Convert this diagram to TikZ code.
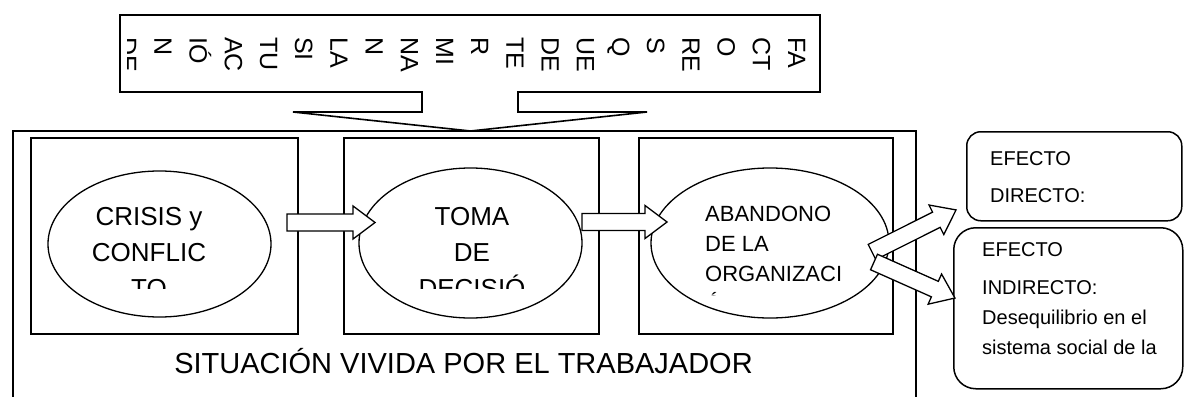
\documentclass[tikz,border=0pt]{standalone}
\usepackage{fontspec}
\setmainfont{Liberation Sans}
\usetikzlibrary{shapes.geometric}

% flecha de bloque: origen, angulo, largo
\newcommand{\flechabloque}[3]{%
  \draw[bloque, shift={#1}, rotate=#2] (0,-8.5) -- ({#3-22},-8.5) -- ({#3-22},-16.5) -- (#3,0)
    -- ({#3-22},16.5) -- ({#3-22},8.5) -- (0,8.5) -- cycle;}

\begin{document}
\begin{tikzpicture}[x=1pt, y=-1pt,
    caja/.style={draw, line width=1.6pt, inner sep=0pt, anchor=north west},
    elipse/.style={draw, ellipse, line width=1.3pt, inner sep=0pt},
    texto/.style={inner sep=0pt, align=center, font=\fontsize{26}{36}\selectfont},
    vertical/.style={inner sep=0pt, rotate=-90, anchor=base west, font=\fontsize{25}{30}\selectfont},
    efecto/.style={draw, rounded corners=#1, line width=1.5pt, inner sep=0pt, anchor=north west},
    bloque/.style={draw, fill=white, line width=1.3pt, line join=miter}]
  \useasboundingbox (0,0) rectangle (1185,396);

  % Llamada superior
  \draw[line width=1.6pt] (120,15) -- (820,15) -- (820,92) -- (518,92) -- (518,112) -- (647,112)
    -- (470.5,131) -- (293,112) -- (422,112) -- (422,92) -- (120,92) -- cycle;
  % Texto vertical de la llamada
  \begin{scope}
    \clip (127,15) rectangle (820,92);
    \foreach \trozo [count=\i from 0] in {FA,CT,O,RE,S,Q,UE,DE,TE,R,MI,NA,N,LA,SI,TU,AC,IÓ,N,DE}
      \node[vertical] (col\i) at ({788-35.2*\i},37) {\trozo};
  \end{scope}

  % Recuadro general
  \node[caja, minimum width=903pt, minimum height=270pt] (situacion) at (12,130) {};
  % Recuadros interiores
  \node[caja, minimum width=267pt, minimum height=196pt] (caja1) at (30,137) {};
  \node[caja, minimum width=255pt, minimum height=196pt] (caja2) at (343,137) {};
  \node[caja, minimum width=254pt, minimum height=196pt] (caja3) at (638,137) {};

  % Elipses
  \node[elipse, minimum width=223pt, minimum height=146pt] (elipse1) at (159.5,244) {};
  \node[elipse, minimum width=223pt, minimum height=150pt] (elipse2) at (470.5,243) {};
  \node[elipse, minimum width=238pt, minimum height=150pt] (elipse3) at (770,243) {};

  % Textos de las elipses (recortados)
  \begin{scope}
    \clip (0,0) rectangle (640,288);
    \node[texto, anchor=north] (texto1) at (149,207) {CRISIS y\\CONFLIC\\TO};
    \node[texto, anchor=north] (texto2) at (472,207) {TOMA\\DE\\DECISIÓ};
  \end{scope}
  \begin{scope}
    \clip (640,0) rectangle (900,295.5);
    \node[texto, anchor=north west, align=left, font=\fontsize{22}{30}\selectfont] (texto3) at (705,205.7)
      {ABANDONO\\DE LA\\ORGANIZACI\\Ó};
  \end{scope}

  % Titulo
  \node[inner sep=0pt, anchor=base, font=\fontsize{29}{35}\selectfont] (titulo) at (463.5,373)
    {SITUACIÓN VIVIDA POR EL TRABAJADOR};

  % Efectos
  \node[efecto=14pt, minimum width=215pt, minimum height=89pt] (directo) at (966,131) {};
  \node[efecto=22pt, minimum width=229pt, minimum height=161pt] (indirecto) at (953,227) {};
  \node[inner sep=0pt, anchor=north west, align=left, font=\fontsize{20}{37}\selectfont] (tdirecto)
    at (990,151) {EFECTO\\DIRECTO:};
  \node[inner sep=0pt, anchor=north west, align=left, font=\fontsize{20}{30}\selectfont] (tindirecto)
    at (982,242.5) {EFECTO\\[8pt]INDIRECTO:\\Desequilibrio en el\\sistema social de la};

  % Flechas
  \flechabloque{(287,222.5)}{0}{88}
  \flechabloque{(582,222)}{0}{85}
  \flechabloque{(872,252)}{26.6}{94}
  \flechabloque{(874,262)}{-24}{88.6}
\end{tikzpicture}
\end{document}
